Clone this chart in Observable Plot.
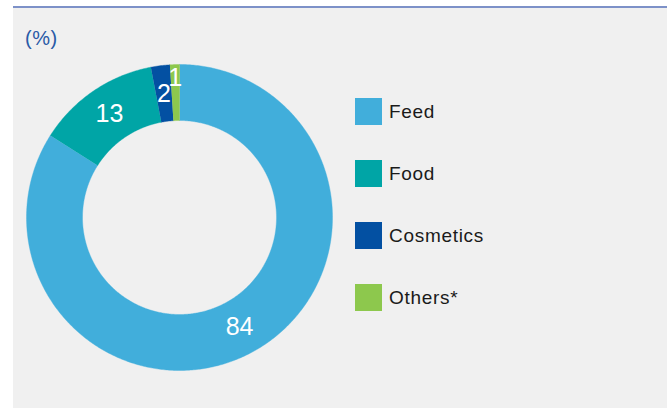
<!DOCTYPE html>
<html>
<head>
<meta charset="utf-8">
<script src="https://cdn.jsdelivr.net/npm/d3@7"></script>
<script src="https://cdn.jsdelivr.net/npm/@observablehq/plot@0.6"></script>
<style>
  html, body { margin: 0; padding: 0; background: #ffffff; }
  body { width: 667px; height: 408px; position: relative; overflow: hidden; font-family: "Liberation Sans", Arial, sans-serif; }
  #panel { position: absolute; left: 13px; top: 6px; width: 654px; height: 402px; background: #f0f0f0; border-top: 2px solid #7d91c8; box-sizing: border-box; }
  #unit { position: absolute; left: 25px; top: 28px; font-size: 20px; line-height: 20px; color: #2a5aa6; letter-spacing: 0.5px; }
  #chart { position: absolute; left: 26px; top: 64px; }
  #legend { position: absolute; left: 355px; top: 98px; }
  .item { display: flex; align-items: center; height: 27px; margin-bottom: 35px; }
  .sw { width: 27px; height: 27px; margin-right: 7px; }
  .lab { font-size: 19px; line-height: 27px; color: #1a1a1a; letter-spacing: 0.7px; }
</style>
</head>
<body>
<div id="panel"></div>
<div id="unit">(%)</div>
<div id="chart"></div>
<div id="legend"></div>
<script>
const categories = ["Feed", "Food", "Cosmetics", "Others*"];
const values = [84, 13, 2, 1];
const colors = ["#41aedb", "#00a5a6", "#0350a2", "#8dc84d"];

const size = 306;          // diameter in px
const outerR = 1;
const innerR = 97 / 153;

const data = categories.map((c, i) => ({key: c, value: values[i]}));
const pie = d3.pie().sort(null).value(d => d.value).startAngle(0).endAngle(2 * Math.PI);
const arcs = pie(data);

// polygon points for each slice
const pts = [];
for (const a of arcs) {
  const n = Math.max(4, Math.ceil((a.endAngle - a.startAngle) / 0.01));
  for (let i = 0; i <= n; i++) {
    const t = a.startAngle + (a.endAngle - a.startAngle) * i / n;
    pts.push({key: a.data.key, x: outerR * Math.sin(t), y: outerR * Math.cos(t)});
  }
  for (let i = n; i >= 0; i--) {
    const t = a.startAngle + (a.endAngle - a.startAngle) * i / n;
    pts.push({key: a.data.key, x: innerR * Math.sin(t), y: innerR * Math.cos(t)});
  }
}

const labels = arcs.map(a => {
  const mid = (a.startAngle + a.endAngle) / 2;
  const r = a.data.value < 2 ? 0.91 : 0.815;
  return {text: String(a.data.value), x: r * Math.sin(mid), y: r * Math.cos(mid)};
});

const plot = Plot.plot({
  width: size,
  height: size,
  margin: 0,
  x: {domain: [-1, 1], axis: null},
  y: {domain: [-1, 1], axis: null},
  color: {domain: categories, range: colors},
  style: {background: "transparent", overflow: "visible"},
  marks: [
    Plot.line(pts, {x: "x", y: "y", z: "key", fill: "key", stroke: "key", strokeWidth: 0.4, curve: "linear"}),
    Plot.text(labels, {x: "x", y: "y", text: "text", fill: "white", fontSize: 25, fontFamily: "Liberation Sans, Arial, sans-serif"})
  ]
});
document.getElementById("chart").appendChild(plot);

const legend = document.getElementById("legend");
categories.forEach((c, i) => {
  const item = document.createElement("div");
  item.className = "item";
  const sw = document.createElement("div");
  sw.className = "sw";
  sw.style.background = colors[i];
  const lab = document.createElement("span");
  lab.className = "lab";
  lab.textContent = c;
  item.appendChild(sw);
  item.appendChild(lab);
  legend.appendChild(item);
});
</script>
</body>
</html>
